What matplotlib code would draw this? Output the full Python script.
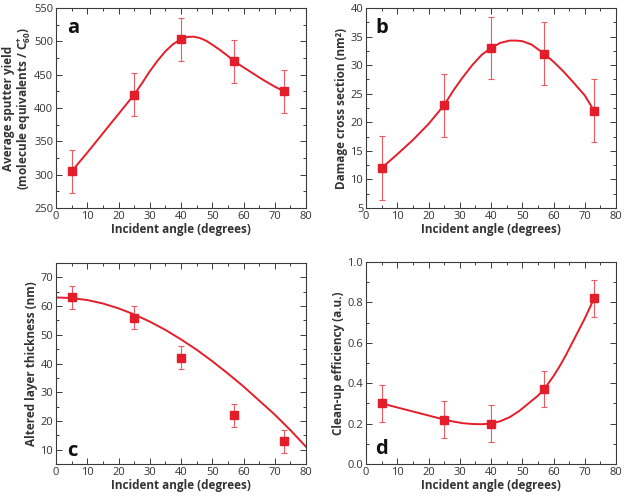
import matplotlib
matplotlib.use("Agg")
import matplotlib.pyplot as plt
from matplotlib.ticker import MultipleLocator

plt.rcParams['font.family'] = ['Open Sans', 'DejaVu Sans']
plt.rcParams['mathtext.fontset'] = 'custom'
plt.rcParams['mathtext.rm'] = 'Open Sans:bold'
plt.rcParams['mathtext.bf'] = 'Open Sans:bold'

RED = '#e31e2a'
GREY = '#3a3a3a'

# measured points (incident angle in degrees)
angle = [5, 25, 40, 57, 73]

yield_val = [305, 420, 503, 470, 425]
yield_err = [32, 32, 32, 32, 32]
yield_fit_x = [5, 10, 15, 20, 25, 27.5, 30, 32.5, 35, 37.5, 40, 42, 44, 46, 48, 50, 52.5, 55, 57, 60, 63, 66, 70, 73]
yield_fit_y = [305, 333, 362, 391, 420, 437, 455, 471, 485, 496, 503, 506.5, 507, 505, 501, 495, 487, 478, 470, 461, 452, 443, 432, 425]

damage_val = [12, 23, 33, 32, 22]
damage_err = [5.6, 5.5, 5.5, 5.5, 5.5]
damage_fit_x = [5, 10, 15, 20, 25, 28, 31, 34, 37, 40, 43, 46, 48, 50, 53, 57, 60, 63, 66, 70, 73]
damage_fit_y = [12, 14.4, 16.9, 19.7, 23, 25.6, 27.9, 30.0, 31.8, 33, 33.9, 34.3, 34.3, 34.2, 33.6, 32, 30.6, 29.0, 27.2, 24.7, 22]

layer_val = [63, 56, 42, 22, 13]
layer_err = [4, 4, 4, 4, 4]
layer_fit_x = [0, 5, 10, 15, 20, 25, 30, 35, 40, 45, 50, 55, 60, 65, 70, 75, 80]
layer_fit_y = [63, 62.8, 62.1, 60.9, 59.2, 57.1, 54.6, 51.7, 48.4, 44.8, 40.8, 36.5, 32.0, 27.1, 22.2, 16.8, 11.0]

clean_val = [0.30, 0.22, 0.20, 0.37, 0.82]
clean_err = [0.09, 0.09, 0.09, 0.09, 0.09]
clean_fit_x = [5, 10, 15, 20, 25, 28, 31, 34, 37, 40, 43, 46, 49, 52, 55, 57, 60, 62, 64, 66, 68, 70, 73]
clean_fit_y = [0.30, 0.28, 0.26, 0.24, 0.22, 0.21, 0.202, 0.198, 0.197, 0.20, 0.212, 0.232, 0.262, 0.30, 0.338, 0.37, 0.435, 0.485, 0.54, 0.60, 0.66, 0.72, 0.82]

fig = plt.figure(figsize=(6.27, 4.98), dpi=100)
W, H = 627, 498


def px_axes(l, t, r, b):
    return fig.add_axes([l / W, 1 - b / H, (r - l) / W, (b - t) / H])


def style(ax, ylim, ymaj, ymin, ylabel, letter, lpos, lpad=2):
    ax.set_xlim(0, 80)
    ax.set_ylim(*ylim)
    ax.xaxis.set_major_locator(MultipleLocator(10))
    ax.xaxis.set_minor_locator(MultipleLocator(5))
    ax.yaxis.set_major_locator(MultipleLocator(ymaj))
    ax.yaxis.set_minor_locator(MultipleLocator(ymin))
    ax.tick_params(which='both', direction='in', top=True, right=True,
                   colors=GREY, labelcolor='#333333', labelsize=8, width=0.7, pad=2)
    ax.tick_params(which='major', length=4)
    ax.tick_params(which='minor', length=2)
    for s in ax.spines.values():
        s.set_color(GREY)
        s.set_linewidth(0.8)
    ax.set_xlabel('Incident angle (degrees)', fontsize=8.5, fontweight='bold',
                  color='#333333', labelpad=1)
    ax.set_ylabel(ylabel, fontsize=8.5, fontweight='bold', color='#333333',
                  labelpad=lpad, linespacing=1.1)
    ax.text(lpos[0], lpos[1], letter, transform=ax.transAxes, fontsize=14.5,
            fontweight='bold', color='#111111', ha='left', va='center')


def draw(ax, vals, errs, fx, fy):
    ax.plot(fx, fy, color=RED, lw=1.4, zorder=2, solid_joinstyle='round')
    ax.errorbar(angle, vals, yerr=errs, fmt='s', color=RED, ms=6,
                ecolor='#ec5a62', elinewidth=0.8, capsize=2.5, capthick=0.8, zorder=3)


ax_a = px_axes(56, 8, 306, 208)
draw(ax_a, yield_val, yield_err, yield_fit_x, yield_fit_y)
style(ax_a, (250, 550), 50, 25,
      'Average sputter yield\n(molecule equivalents / C$_{60}^{+}$)', 'a', (0.044, 0.9), lpad=0.5)

ax_b = px_axes(366, 8, 616, 208)
draw(ax_b, damage_val, damage_err, damage_fit_x, damage_fit_y)
style(ax_b, (5, 40), 5, 2.5, 'Damage cross section (nm²)', 'b', (0.036, 0.9))

ax_c = px_axes(56, 263, 306, 464)
draw(ax_c, layer_val, layer_err, layer_fit_x, layer_fit_y)
style(ax_c, (5, 75), 10, 5, 'Altered layer thickness (nm)', 'c', (0.044, 0.065))

ax_d = px_axes(366, 262, 616, 464)
draw(ax_d, clean_val, clean_err, clean_fit_x, clean_fit_y)
style(ax_d, (0, 1.0), 0.2, 0.1, 'Clean-up efficiency (a.u.)', 'd', (0.036, 0.075))

fig.savefig('out.png', dpi=100)
